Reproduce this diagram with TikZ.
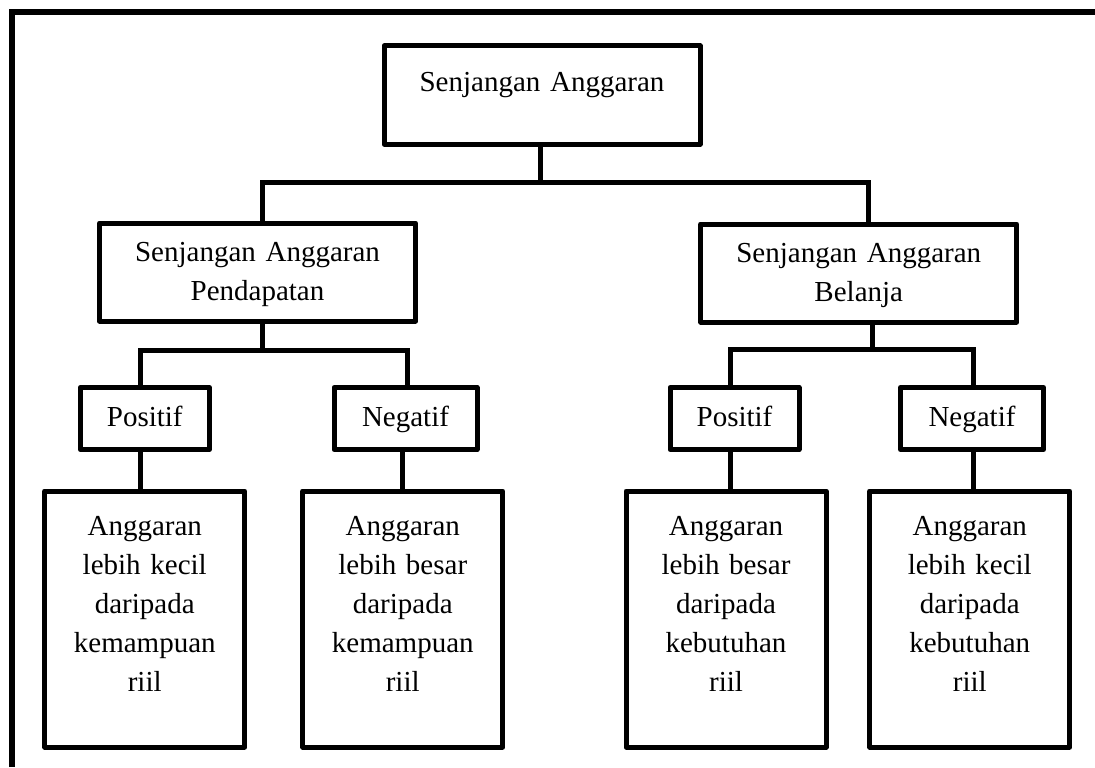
\documentclass[tikz,border=0pt]{standalone}
\usepackage{fontspec}
\setmainfont{Liberation Serif}
\usepackage{tikz}

\begin{document}
\begin{tikzpicture}[x=0.75pt, y=-0.75pt,
		every node/.style={font=\fontsize{21.75pt}{29.25pt}\selectfont},
		box/.style={draw, line width=3.75pt, line join=round, inner sep=0pt, outer sep=0pt, anchor=north, align=center},
		headbox/.style={box, minimum width=237pt, text width=220pt, text height=28.875pt, text depth=44.625pt},
		signbox/.style={box, text width=80pt, text height=28.875pt, text depth=17.625pt},
		notebox/.style={box, minimum width=150pt, text width=130pt, text height=33pt, text depth=159pt},
		link/.style={line width=3.75pt}]

		\useasboundingbox (0,0) rectangle (1095,767);

		% outer frame, only top and left edge
		\draw [line width=4pt] (12,767) -- (12,12) -- (1095,12);

		% level 1
		\node (senjangan) [headbox, text height=33.75pt, text depth=39.75pt] at (542,46) {Senjangan Anggaran};

		% level 2
		\node (pendapatan) [headbox] at (257.5,223) {Senjangan Anggaran\\Pendapatan};
		\node (belanja) [headbox] at (858.75,224) {Senjangan Anggaran\\Belanja};

		% level 3
		\node (pos1) [signbox, minimum width=96.75pt] at (144.75,387.5) {Positif};
		\node (neg1) [signbox, minimum width=107.25pt] at (405.5,387.5) {Negatif};
		\node (pos2) [signbox, minimum width=96.75pt] at (734.5,387.5) {Positif};
		\node (neg2) [signbox, minimum width=107.25pt] at (972,387.5) {Negatif};

		% level 4
		\node (ket1) [notebox] at (144.75,491) {Anggaran\\lebih kecil\\daripada\\kemampuan\\riil};
		\node (ket2) [notebox] at (402.75,491) {Anggaran\\lebih besar\\daripada\\kemampuan\\riil};
		\node (ket3) [notebox] at (726,491) {Anggaran\\lebih besar\\daripada\\kebutuhan\\riil};
		\node (ket4) [notebox] at (969.75,491) {Anggaran\\lebih kecil\\daripada\\kebutuhan\\riil};

		% bus points
		\coordinate (top0) at (540,182);
		\coordinate (busL) at (262,182);
		\coordinate (busR) at (868.5,182);
		\coordinate (midL) at (262,350);
		\coordinate (bus2L) at (140,350);
		\coordinate (bus2R) at (407.5,350);
		\coordinate (midR) at (872,349);
		\coordinate (bus3L) at (730,349);
		\coordinate (bus3R) at (973,349);

		% draw connectors
		\draw [link] (senjangan.south -| top0) -- (top0);
		\draw [link] (pendapatan.north -| busL) -- (busL) -- (busR) -- (belanja.north -| busR);

		\draw [link] (pendapatan.south -| midL) -- (midL);
		\draw [link] (pos1.north -| bus2L) -- (bus2L) -- (bus2R) -- (neg1.north -| bus2R);
		\draw [link] (belanja.south -| midR) -- (midR);
		\draw [link] (pos2.north -| bus3L) -- (bus3L) -- (bus3R) -- (neg2.north -| bus3R);

		\draw [link] (pos1.south -| bus2L) -- (ket1.north -| bus2L);
		\draw [link] (neg1.south -| ket2.north) -- (ket2.north);
		\draw [link] (pos2.south -| bus3L) -- (ket3.north -| bus3L);
		\draw [link] (neg2.south -| bus3R) -- (ket4.north -| bus3R);
\end{tikzpicture}
\end{document}
